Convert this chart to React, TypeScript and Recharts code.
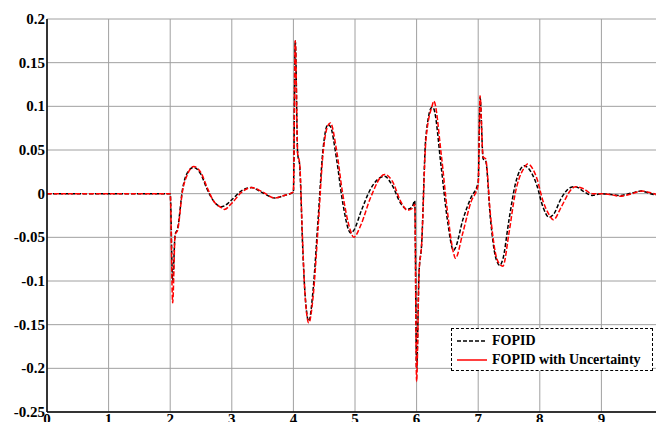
import { CartesianGrid, Line, LineChart, XAxis, YAxis } from 'recharts';

const time = [
  0, 2.0, 2.04, 2.08, 2.12, 2.2, 2.28, 2.38, 2.5, 2.6, 2.7, 2.83, 2.88, 3.0, 3.15, 3.32, 3.5, 3.7, 3.85,
  4.0, 4.03, 4.07, 4.1, 4.15, 4.18, 4.25, 4.32, 4.4, 4.48, 4.56, 4.6, 4.7, 4.8, 4.93, 4.98, 5.1, 5.25,
  5.48, 5.6, 5.75, 5.85, 5.93, 5.97, 6.0, 6.04, 6.08, 6.15, 6.25, 6.28, 6.4, 6.5, 6.6, 6.63, 6.75, 6.88,
  7.0, 7.03, 7.08, 7.12, 7.2, 7.28, 7.35, 7.4, 7.5, 7.6, 7.75, 7.8, 7.95, 8.05, 8.15, 8.22, 8.35, 8.5,
  8.58, 8.7, 8.85, 9.0, 9.15, 9.3, 9.5, 9.65, 9.8, 10,
];

const fopid = [
  0, 0, -0.1, -0.047, -0.04, 0.005, 0.024, 0.03, 0.022, 0.005, -0.008, -0.015, -0.014, -0.007, 0.003, 0.007, 0.001, -0.005, -0.002,
  0.002, 0.175, 0.045, 0.034, -0.06, -0.105, -0.146, -0.11, -0.03, 0.05, 0.079, 0.077, 0.04, -0.01, -0.045, -0.042, -0.02, 0.005,
  0.02, 0.01, -0.012, -0.018, -0.015, -0.008, -0.2, -0.09, -0.06, 0.065, 0.099, 0.097, 0.03, -0.03, -0.065, -0.062, -0.03, -0.005,
  0.013, 0.11, 0.04, 0.038, -0.03, -0.072, -0.082, -0.075, -0.03, 0.01, 0.032, 0.03, 0.01, -0.015, -0.027, -0.024, -0.005, 0.007,
  0.008, 0.003, -0.002, 0, -0.001, -0.002, 0.001, 0.003, 0, -0.003,
];

const fopidUncertain = [
  0, 0, -0.125, -0.047, -0.042, 0.003, 0.022, 0.031, 0.024, 0.007, -0.008, -0.016, -0.018, -0.011, 0.001, 0.007, 0.002, -0.005, -0.002,
  0.002, 0.175, 0.045, 0.036, -0.055, -0.105, -0.148, -0.118, -0.04, 0.045, 0.078, 0.081, 0.05, 0, -0.043, -0.05, -0.035, -0.005,
  0.022, 0.015, -0.01, -0.019, -0.017, -0.012, -0.215, -0.09, -0.06, 0.06, 0.1, 0.106, 0.045, -0.02, -0.068, -0.074, -0.045, -0.01,
  0.01, 0.112, 0.042, 0.04, -0.025, -0.068, -0.081, -0.083, -0.045, 0, 0.03, 0.034, 0.018, -0.008, -0.024, -0.03, -0.015, 0.004,
  0.008, 0.006, 0, 0, -0.001, -0.003, 0, 0.003, 0.001, -0.003,
];

const xTicks = [0, 1, 2, 3, 4, 5, 6, 7, 8, 9, 10];
const yTicks = [-0.25, -0.2, -0.15, -0.1, -0.05, 0, 0.05, 0.1, 0.15, 0.2];

const data = time.map((t, i) => ({ t, a: fopid[i], b: fopidUncertain[i] }));

const FONT = "'Liberation Serif', 'Times New Roman', serif";

function XTick(props: any) {
  const { x, y, payload } = props;
  return (
    <text x={x} y={y + 12} textAnchor="middle" fontFamily={FONT} fontWeight={700} fontSize={15} fill="#000">
      {payload.value}
    </text>
  );
}

function YTick(props: any) {
  const { x, y, payload } = props;
  return (
    <text x={x + 1} y={y + 5} textAnchor="end" fontFamily={FONT} fontWeight={700} fontSize={15} fill="#000">
      {String(payload.value)}
    </text>
  );
}

export default function App() {
  return (
    <div style={{ position: 'relative', width: 664, height: 430, margin: -8, background: '#fff' }}>
      <LineChart width={664} height={430} data={data} margin={{ top: 19, right: 1, bottom: 0, left: 0 }}>
        <CartesianGrid stroke="#a0a0a0" strokeWidth={1} />
        <XAxis
          dataKey="t"
          type="number"
          domain={[0, 10]}
          ticks={xTicks}
          interval={0}
          tick={<XTick />}
          tickLine={false}
          tickSize={0}
          tickMargin={0}
          height={18}
          axisLine={{ stroke: '#000', strokeWidth: 1.5 }}
        />
        <XAxis xAxisId="top" orientation="top" type="number" dataKey="t" domain={[0, 10]} tick={false} tickLine={false} height={0} axisLine={{ stroke: '#000' }} />
        <YAxis
          type="number"
          domain={[-0.25, 0.2]}
          ticks={yTicks}
          interval={0}
          tick={<YTick />}
          tickLine={false}
          tickSize={0}
          tickMargin={3}
          width={47}
          axisLine={{ stroke: '#000', strokeWidth: 1.5 }}
        />
        <YAxis yAxisId="r" orientation="right" type="number" domain={[-0.25, 0.2]} tick={false} tickLine={false} width={0} axisLine={{ stroke: '#000' }} />
        <Line type="monotone" dataKey="a" stroke="#000" strokeWidth={1.5} strokeDasharray="4 2" dot={false} isAnimationActive={false} />
        <Line type="monotone" dataKey="b" stroke="#ff0000" strokeWidth={1.5} strokeDasharray="5 2" dot={false} isAnimationActive={false} />
      </LineChart>
      <div
        style={{
          position: 'absolute',
          left: 451,
          top: 328,
          width: 202,
          height: 43,
          border: '1px dashed #000',
          background: '#fff',
          fontFamily: FONT,
          fontWeight: 700,
          fontSize: 14,
          whiteSpace: 'nowrap',
          boxSizing: 'border-box',
        }}
      >
        <div style={{ display: 'flex', alignItems: 'center', height: 19, marginTop: 2 }}>
          <svg width={35} height={4} style={{ marginLeft: 5 }}>
            <line x1={0} y1={2} x2={30} y2={2} stroke="#000" strokeWidth={1.5} strokeDasharray="4 2" />
          </svg>
          <span>FOPID</span>
        </div>
        <div style={{ display: 'flex', alignItems: 'center', height: 19 }}>
          <svg width={35} height={4} style={{ marginLeft: 5 }}>
            <line x1={0} y1={2} x2={30} y2={2} stroke="#ff0000" strokeWidth={1.5} />
          </svg>
          <span>FOPID with Uncertainty</span>
        </div>
      </div>
    </div>
  );
}
